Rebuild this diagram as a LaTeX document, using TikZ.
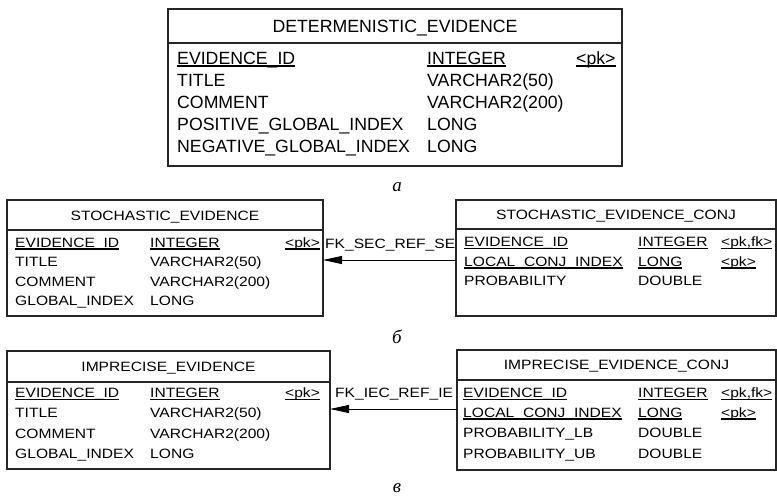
\documentclass[tikz,border=0pt]{standalone}
\usepackage{fontspec}
\setmainfont{Liberation Sans}
\newfontfamily\erfont[FakeStretch=1.155]{Liberation Sans}
\newfontfamily\capfont{Liberation Serif}
\usetikzlibrary{arrows.meta,calc}

% underlined key column entry
\newsavebox\ulbox
\newcommand\keyul[1]{\sbox\ulbox{#1}\rlap{\rule[-2.4pt]{\wd\ulbox}{1.4pt}}\usebox\ulbox}

\tikzset{
  tbl/.style={draw=black!85, line width=1.1pt, inner sep=0pt, outer sep=0pt, anchor=north west},
  hdline/.style={draw=black!85, line width=1.1pt},
  bigtxt/.style={inner sep=0pt, anchor=base west, font=\fontsize{17.7}{20}\selectfont},
  bigttl/.style={bigtxt, anchor=base},
  smtxt/.style={inner sep=0pt, anchor=base west, font=\erfont\fontsize{13.5}{16}\selectfont},
  smttl/.style={smtxt, anchor=base},
  fk/.style={draw=black, line width=0.9pt, -{Triangle[length=19pt, width=8pt]}},
  subcap/.style={inner sep=0pt, anchor=base, font=\capfont\itshape\fontsize{19}{22}\selectfont},
}

\begin{document}
\begin{tikzpicture}[x=1pt, y=-1pt]
\useasboundingbox (0,0) rectangle (777,496);

% ---------- DETERMENISTIC_EVIDENCE ----------
\node[tbl, minimum width=454pt, minimum height=157pt] (D) at (168,9) {};
\draw[hdline] ($(D.north west)+(0,34)$) -- ($(D.north east)+(0,34)$);
\node[bigttl] (Dt) at ($(D.north)+(0,23.3)$) {DETERMENISTIC\_EVIDENCE};
\node[bigtxt] (D1a) at (177,64.3)  {\keyul{EVIDENCE\_ID}};
\node[bigtxt] (D1b) at (427,64.3)  {\keyul{INTEGER}};
\node[bigtxt] (D1c) at (576,64.3)  {\keyul{<pk>}};
\node[bigtxt] (D2a) at (177,86.3)  {TITLE};
\node[bigtxt] (D2b) at (427,86.3)  {VARCHAR2(50)};
\node[bigtxt] (D3a) at (177,108.3) {COMMENT};
\node[bigtxt] (D3b) at (427,108.3) {VARCHAR2(200)};
\node[bigtxt] (D4a) at (177,130.3) {POSITIVE\_GLOBAL\_INDEX};
\node[bigtxt] (D4b) at (427,130.3) {LONG};
\node[bigtxt] (D5a) at (177,152.3) {NEGATIVE\_GLOBAL\_INDEX};
\node[bigtxt] (D5b) at (427,152.3) {LONG};
\node[subcap] (capa) at (397,191) {а};

% ---------- STOCHASTIC_EVIDENCE ----------
\node[tbl, minimum width=316pt, minimum height=116pt] (S) at (7,200) {};
\draw[hdline] ($(S.north west)+(0,30)$) -- ($(S.north east)+(0,30)$);
\node[smttl] (St) at ($(S.north)+(0,20.3)$) {STOCHASTIC\_EVIDENCE};
\node[smtxt] (S1a) at (15,247.3)  {\keyul{EVIDENCE\_ID}};
\node[smtxt] (S1b) at (150,247.3) {\keyul{INTEGER}};
\node[smtxt] (S1c) at (285,247.3) {\keyul{<pk>}};
\node[smtxt] (S2a) at (15,266.8)  {TITLE};
\node[smtxt] (S2b) at (150,266.8) {VARCHAR2(50)};
\node[smtxt] (S3a) at (15,286.3)  {COMMENT};
\node[smtxt] (S3b) at (150,286.3) {VARCHAR2(200)};
\node[smtxt] (S4a) at (15,305.8)  {GLOBAL\_INDEX};
\node[smtxt] (S4b) at (150,305.8) {LONG};

% ---------- STOCHASTIC_EVIDENCE_CONJ ----------
\node[tbl, minimum width=320pt, minimum height=116pt] (SC) at (456,200) {};
\draw[hdline] ($(SC.north west)+(0,29)$) -- ($(SC.north east)+(0,29)$);
\node[smttl] (SCt) at ($(SC.north)+(0,19.3)$) {STOCHASTIC\_EVIDENCE\_CONJ};
\node[smtxt] (SC1a) at (464,246.8) {\keyul{EVIDENCE\_ID}};
\node[smtxt] (SC1b) at (638,246.8) {\keyul{INTEGER}};
\node[smtxt] (SC1c) at (721,246.8) {\keyul{<pk,fk>}};
\node[smtxt] (SC2a) at (464,266.3) {\keyul{LOCAL\_CONJ\_INDEX}};
\node[smtxt] (SC2b) at (638,266.3) {\keyul{LONG}};
\node[smtxt] (SC2c) at (721,266.3) {\keyul{<pk>}};
\node[smtxt] (SC3a) at (464,285.8) {PROBABILITY};
\node[smtxt] (SC3b) at (638,285.8) {DOUBLE};

% reference SC -> S
\coordinate (fa) at (400,260);
\draw[fk] (SC.west |- fa) -- (S.east |- fa);
\node[smtxt] (fkS) at (325,248.8) {FK\_SEC\_REF\_SE};
\node[subcap] (capb) at (397,343) {б};

% ---------- IMPRECISE_EVIDENCE ----------
\node[tbl, minimum width=323pt, minimum height=118pt] (I) at (7,351) {};
\draw[hdline] ($(I.north west)+(0,31)$) -- ($(I.north east)+(0,31)$);
\node[smttl] (It) at ($(I.north)+(0,20.3)$) {IMPRECISE\_EVIDENCE};
\node[smtxt] (I1a) at (15,397.8)  {\keyul{EVIDENCE\_ID}};
\node[smtxt] (I1b) at (150,397.8) {\keyul{INTEGER}};
\node[smtxt] (I1c) at (285,397.8) {\keyul{<pk>}};
\node[smtxt] (I2a) at (15,417.8)  {TITLE};
\node[smtxt] (I2b) at (150,417.8) {VARCHAR2(50)};
\node[smtxt] (I3a) at (15,438.3)  {COMMENT};
\node[smtxt] (I3b) at (150,438.3) {VARCHAR2(200)};
\node[smtxt] (I4a) at (15,458.8)  {GLOBAL\_INDEX};
\node[smtxt] (I4b) at (150,458.8) {LONG};

% ---------- IMPRECISE_EVIDENCE_CONJ ----------
\node[tbl, minimum width=319pt, minimum height=120pt] (IC) at (457,350) {};
\draw[hdline] ($(IC.north west)+(0,30)$) -- ($(IC.north east)+(0,30)$);
\node[smttl] (ICt) at ($(IC.north)+(0,19.8)$) {IMPRECISE\_EVIDENCE\_CONJ};
\node[smtxt] (IC1a) at (463,397.8) {\keyul{EVIDENCE\_ID}};
\node[smtxt] (IC1b) at (638,397.8) {\keyul{INTEGER}};
\node[smtxt] (IC1c) at (721,397.8) {\keyul{<pk,fk>}};
\node[smtxt] (IC2a) at (463,417.3) {\keyul{LOCAL\_CONJ\_INDEX}};
\node[smtxt] (IC2b) at (638,417.3) {\keyul{LONG}};
\node[smtxt] (IC2c) at (721,417.3) {\keyul{<pk>}};
\node[smtxt] (IC3a) at (463,437.3) {PROBABILITY\_LB};
\node[smtxt] (IC3b) at (638,437.3) {DOUBLE};
\node[smtxt] (IC4a) at (463,458.3) {PROBABILITY\_UB};
\node[smtxt] (IC4b) at (638,458.3) {DOUBLE};

% reference IC -> I
\coordinate (fb) at (400,409);
\draw[fk] (IC.west |- fb) -- (I.east |- fb);
\node[smtxt] (fkI) at (335,397.8) {FK\_IEC\_REF\_IE};
\node[subcap] (capc) at (397,492) {в};
\end{tikzpicture}
\end{document}
